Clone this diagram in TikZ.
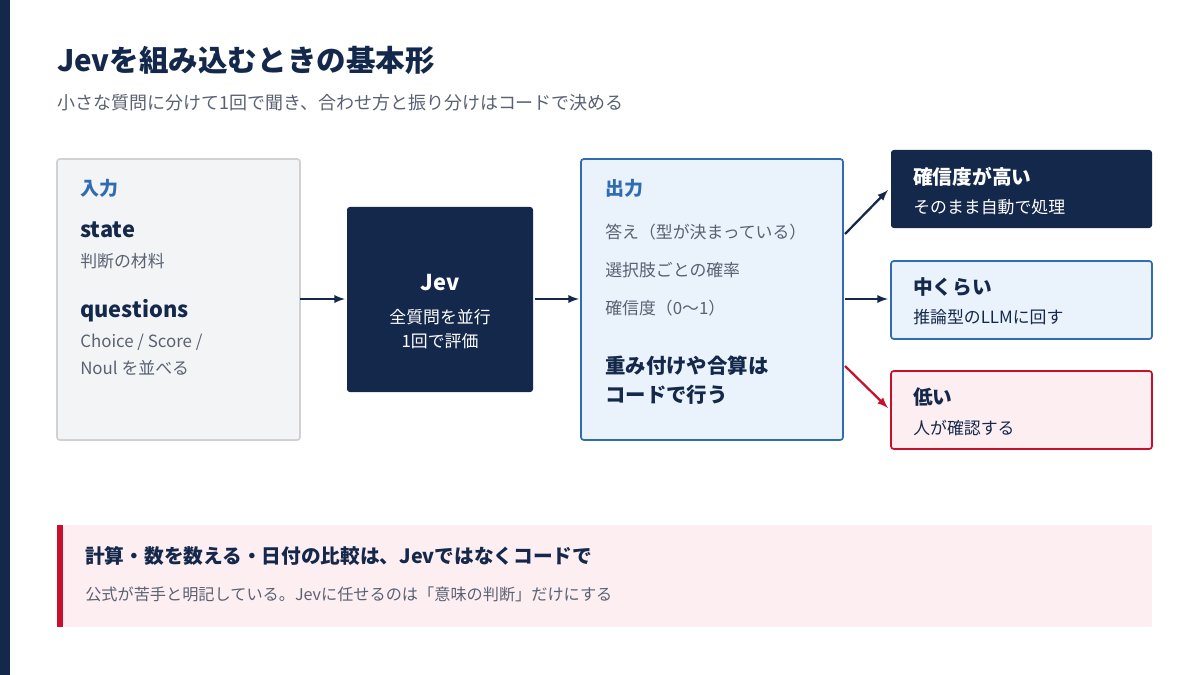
\documentclass[tikz,border=0pt]{standalone}
\usepackage{fontspec}
\setmainfont{Noto Sans CJK JP}
\usetikzlibrary{calc,arrows,positioning}
\definecolor{navy}{HTML}{14284B}
\definecolor{accent}{HTML}{2F6DB0}
\definecolor{softgray}{HTML}{F2F4F6}
\definecolor{softblue}{HTML}{EAF2FB}
\definecolor{softpink}{HTML}{FDEEF1}
\definecolor{alert}{HTML}{C8102E}
\definecolor{txtgray}{HTML}{5A6272}
\tikzset{
	box/.style={draw,line width=1.2pt,rounded corners=2pt},
	lbl/.style={anchor=west,inner sep=0pt,text=navy,font=\fontsize{12}{14}\selectfont},
	head/.style={lbl,text=accent,font=\fontsize{13.5}{16}\bfseries\selectfont},
	sub/.style={lbl,text=txtgray},
	big/.style={lbl,font=\fontsize{15.5}{18}\bfseries\selectfont},
	link/.style={->,line width=1.6pt,draw=navy}
}
\begin{document}
\begin{tikzpicture}[>=latex,x=0.025cm,y=-0.025cm]
		\useasboundingbox (0,0) rectangle (1200,675);
		\fill[white] (0,0) rectangle (1200,675);
		\fill[navy] (0,0) rectangle (10,675);
		\node[lbl,font=\fontsize{21}{25}\bfseries\selectfont] (title) at (57,60) {Jevを組み込むときの基本形};
		\node[sub,font=\fontsize{12.8}{15}\selectfont] (subtitle) at (57,103) {小さな質問に分けて1回で聞き、合わせ方と振り分けはコードで決める};
		% boxes
		\draw[box,draw=black!18,fill=softgray] (57,159) rectangle (300,440);
		\fill[navy,rounded corners=2pt] (347,207) rectangle (533,392);
		\draw[box,draw=accent,fill=softblue] (581,159) rectangle (843,440);
		\fill[navy,rounded corners=2pt] (891,150) rectangle (1152,228);
		\draw[box,draw=accent,fill=softblue] (891,261) rectangle (1152,339);
		\draw[box,draw=alert,fill=softpink] (891,371) rectangle (1152,449);
		\path
			(300,299) coordinate (in-e)
			(345,299) coordinate (jev-w)
			(535,299) coordinate (jev-e)
			(579,299) coordinate (out-w)
			(845,234) coordinate (out-ne)
			(845,299) coordinate (out-e)
			(845,366) coordinate (out-se)
			(888,190) coordinate (hi-w)
			(888,299) coordinate (mid-w)
			(888,408) coordinate (lo-w)
			;
		% input
		\node[head] (in-head) at (80,188) {入力};
		\node[big] (state) at (80,230) {state};
		\node[sub] (state-txt) at (80,261) {判断の材料};
		\node[big] (qs) at (80,311) {questions};
		\node[sub] (qs-txt1) at (80,342) {Choice / Score /};
		\node[sub] (qs-txt2) at (80,368) {Noul を並べる};
		% jev
		\node[big,anchor=center,text=white] (jev) at (440,283) {Jev};
		\node[lbl,anchor=center,text=white] (jev-txt1) at (440,317) {全質問を並行};
		\node[lbl,anchor=center,text=white] (jev-txt2) at (440,341) {1回で評価};
		% output
		\node[head] (out-head) at (605,188) {出力};
		\node[sub] (o1) at (605,232) {答え（型が決まっている）};
		\node[sub] (o2) at (605,270) {選択肢ごとの確率};
		\node[sub] (o3) at (605,308) {確信度（0〜1）};
		\node[big,align=left,font=\fontsize{14.5}{21}\bfseries\selectfont] (o4) at (605,380) {重み付けや合算は\\コードで行う};
		% routes
		\node[big,text=white,font=\fontsize{14}{16}\bfseries\selectfont] (hi) at (913,177) {確信度が高い};
		\node[lbl,text=white] (hi-txt) at (913,207) {そのまま自動で処理};
		\node[big,font=\fontsize{14}{16}\bfseries\selectfont] (mid) at (913,287) {中くらい};
		\node[lbl] (mid-txt) at (913,317) {推論型のLLMに回す};
		\node[big,font=\fontsize{14}{16}\bfseries\selectfont] (lo) at (913,397) {低い};
		\node[lbl] (lo-txt) at (913,428) {人が確認する};
		% arrows
		\draw[link] (in-e) -- (jev-w);
		\draw[link] (jev-e) -- (out-w);
		\draw[link] (out-ne) -- (hi-w);
		\draw[link] (out-e) -- (mid-w);
		\draw[link,draw=alert] (out-se) -- (lo-w);
		% note
		\fill[softpink] (57,525) rectangle (1152,627);
		\fill[alert] (57,525) rectangle (63,627);
		\node[big,font=\fontsize{14}{16}\bfseries\selectfont] (note) at (85,556) {計算・数を数える・日付の比較は、Jevではなくコードで};
		\node[sub,font=\fontsize{11.5}{14}\selectfont] (note-txt) at (85,594) {公式が苦手と明記している。Jevに任せるのは「意味の判断」だけにする};
	\end{tikzpicture}
\end{document}
